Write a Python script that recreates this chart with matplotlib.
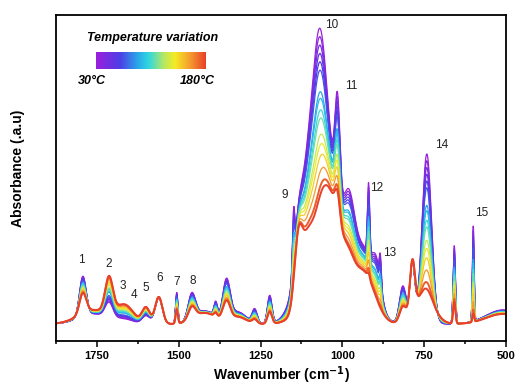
import matplotlib
matplotlib.use('Agg')
import matplotlib.pyplot as plt
import numpy as np
from matplotlib.colors import LinearSegmentedColormap

plt.rcParams['font.family'] = ['Liberation Sans', 'DejaVu Sans']

# FTIR spectra recorded while heating from 30 to 180 C
temps = [30, 40, 50, 60, 70, 80, 90, 100, 110, 120, 130, 140, 150, 160, 170, 180]
# how far each spectrum has moved from the 30 C shape towards the 180 C shape
heat_frac = [0.0, 0.05, 0.10, 0.15, 0.20, 0.25, 0.38, 0.42, 0.49, 0.54,
             0.64, 0.70, 0.77, 0.86, 0.95, 1.0]

# absorption bands: centre (cm-1), half width (cm-1), height at 30 C, height at 180 C
band_pos = [1760, 1793, 1713, 1665, 1600, 1561, 1506, 1460, 1420, 1387,
            1354, 1320, 1268, 1222, 1135, 1149, 1110, 1065, 1070, 1035,
            1015, 980, 935, 920, 895, 884, 815, 786, 750, 742,
            658, 600, 510]
band_hw = [55, 12, 14, 32, 14, 13, 4, 13, 40, 6,
           13, 30, 9, 8, 14, 4, 20, 55, 22, 42,
           9, 20, 40, 4, 15, 3.5, 12, 9, 35, 17,
           4, 3, 60]
band_cold = [10, 40, 15, 4, 8, 26, 31, 25, 13, 14,
             39, 12, 14, 28, 40, 52, 30, 210, 85, 0,
             100, 65, 72, 70, 30, 26, 38, 60, 0, 170,
             78, 95, 14]
band_hot = [14, 20, 36, 18, 16, 27, 14, 12, 11, 4,
            19, 7, 4, 12, 60, 0, 40, 60, 15, 80,
            25, 20, 50, 5, 0, 0, 15, 51, 28, 8,
            22, 8, 10]
base_level = 17

peak_ids = [str(i) for i in range(1, 16)]
peak_wn = [1796, 1713, 1671, 1637, 1601, 1558, 1506, 1457, 1177, 1033, 973, 896, 857, 698, 573]
peak_h = [81, 77, 55, 46, 53, 63, 59, 60, 146, 316, 255, 153, 88, 196, 128]

cmap = LinearSegmentedColormap.from_list('heat', [
    (0.0, '#9b1fdc'), (0.22, '#4b3fe6'), (0.38, '#2aa8ea'), (0.48, '#30d8e0'),
    (0.62, '#b8e860'), (0.72, '#f5eb25'), (0.86, '#f59a2e'), (1.0, '#e8402a')])


def spectrum(wn, amps):
    y = np.full_like(wn, base_level, dtype=float)
    for c, w, a in zip(band_pos, band_hw, amps):
        y += a * np.exp(-np.log(2) * ((wn - c) / w) ** 2)
    return y


wn = np.linspace(1875, 500, 2751)
cold = np.array(band_cold, dtype=float)
hot = np.array(band_hot, dtype=float)

fig = plt.figure(figsize=(5.15, 3.88), dpi=100)
ax = fig.add_axes([56 / 515, 47 / 388, 450 / 515, 326 / 388])

for t, f in zip(temps, heat_frac):
    amps = cold + f * (hot - cold)
    lw = 1.4 if f > 0.9 else 0.9
    ax.plot(wn, spectrum(wn, amps), color=cmap(f), lw=lw, label=f'{t} °C')

for s, x, y in zip(peak_ids, peak_wn, peak_h):
    ax.text(x, y, s, fontsize=8.5, color='#222222', ha='center', va='center')

ax.set_xlim(1875, 500)
ax.set_ylim(0, 326)
ax.set_xticks([1750, 1500, 1250, 1000, 750, 500])
ax.set_xticks([1875, 1625, 1375, 1125, 875, 625], minor=True)
ax.set_yticks([])
ax.tick_params(axis='x', which='major', direction='out', length=4, width=1.1, labelsize=8, pad=3)
ax.tick_params(axis='x', which='minor', direction='out', length=2.5, width=1.1)
for lab in ax.get_xticklabels():
    lab.set_fontweight('bold')
for sp in ax.spines.values():
    sp.set_linewidth(1.3)

ax.set_xlabel('Wavenumber (cm$^{\\mathbf{-1}}$)', fontsize=10, fontweight='bold', labelpad=3)
ax.set_ylabel('Absorbance (.a.u)', fontsize=10, fontweight='bold')
ax.yaxis.set_label_coords(-0.069, 0.53)

# temperature colour bar
cax = fig.add_axes([96 / 515, 1 - 69 / 388, 109 / 515, 17 / 388])
cax.imshow(np.linspace(0, 1, 256)[None, :], cmap=cmap, aspect='auto')
cax.axis('off')
fig.text(153 / 515, 1 - 38 / 388, 'Temperature variation', fontsize=9, fontweight='bold',
         style='italic', ha='center', va='center')
fig.text(92 / 515, 1 - 81 / 388, '30°C', fontsize=9, fontweight='bold', style='italic',
         ha='center', va='center')
fig.text(197 / 515, 1 - 81 / 388, '180°C', fontsize=9, fontweight='bold', style='italic',
         ha='center', va='center')

fig.savefig('out.png', dpi=100)
